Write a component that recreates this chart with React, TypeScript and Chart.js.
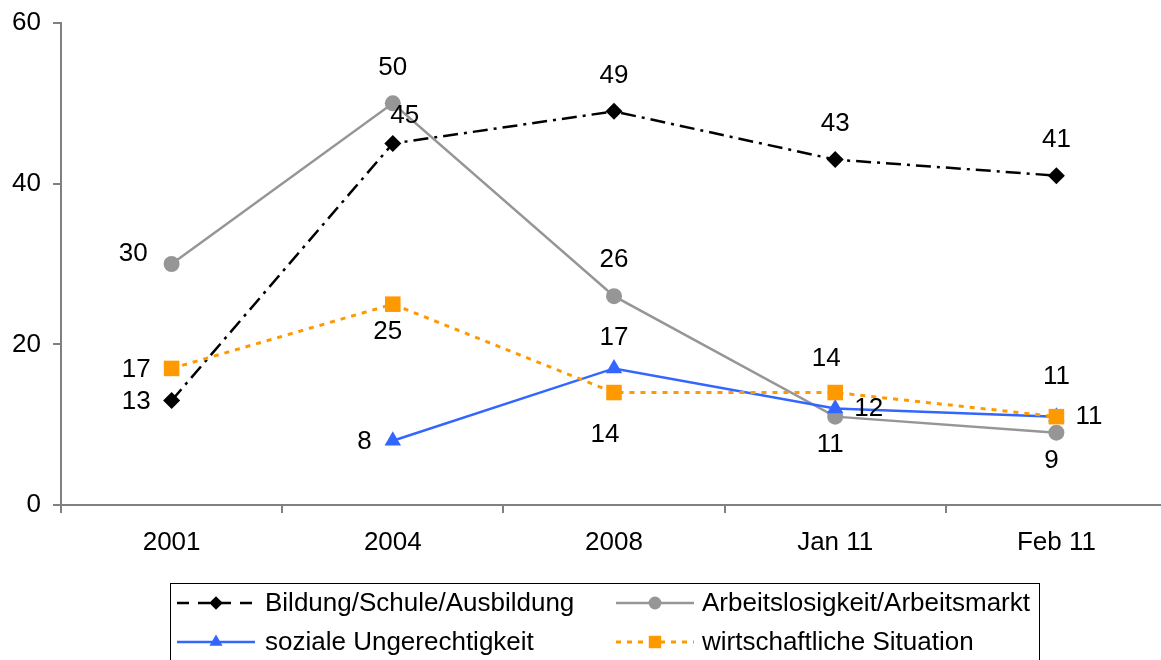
import React, { useEffect, useRef } from 'react';
import { Chart, registerables } from 'chart.js';

Chart.register(...registerables);

// ---- data ----
const categories = ['2001', '2004', '2008', 'Jan 11', 'Feb 11'];
const seriesNames = [
  'Bildung/Schule/Ausbildung',
  'Arbeitslosigkeit/Arbeitsmarkt',
  'soziale Ungerechtigkeit',
  'wirtschaftliche Situation',
];
const bildung = [13, 45, 49, 43, 41];
const arbeitslosigkeit = [30, 50, 26, 11, 9];
const sozial = [null, 8, 17, 12, 11];
const wirtschaft = [17, 25, 14, 14, 11];
const yTicks = [0, 20, 40, 60];

// ---- label placement (style) ----
const labelPlacement = [
  ['left', 'aboveTight', 'above', 'above', 'above'],
  ['leftHigh', 'above', 'above', 'below', 'below'],
  ['none', 'left', 'aboveNear', 'right', 'right'],
  ['left', 'below', 'belowFar', 'aboveL', 'aboveFar'],
];

const OFFSETS: Record<string, [number, number, CanvasTextAlign]> = {
  above: [0, -36, 'center'],
  aboveFar: [0, -40, 'center'],
  aboveNear: [0, -31, 'center'],
  aboveL: [-9, -34, 'center'],
  aboveTight: [12, -28, 'center'],
  below: [-5, 28, 'center'],
  belowFar: [-9, 42, 'center'],
  left: [-21, 1, 'right'],
  leftHigh: [-24, -10, 'right'],
  right: [19, 0, 'left'],
};

const FONT = "'Liberation Sans', Arial, Helvetica, sans-serif";
const FS = 26;

const styles = [
  { color: '#000000', width: 2.5, dash: [15, 6, 3, 6], point: 'rectRot', radius: 8.5 },
  { color: '#969696', width: 2.5, dash: [], point: 'circle', radius: 8 },
  { color: '#3366FF', width: 2.5, dash: [], point: 'triangle', radius: 9.5 },
  { color: '#FF9900', width: 3, dash: [5, 6], point: 'rect', radius: 11 },
];

const W = 1178;
const H = 660;

function drawMarker(ctx: CanvasRenderingContext2D, style: string, x: number, y: number, r: number, color: string) {
  ctx.save();
  ctx.fillStyle = color;
  ctx.setLineDash([]);
  ctx.beginPath();
  if (style === 'circle') {
    ctx.arc(x, y, r, 0, Math.PI * 2);
  } else if (style === 'rect') {
    const s = r * Math.SQRT1_2;
    ctx.rect(x - s, y - s, 2 * s, 2 * s);
  } else if (style === 'rectRot') {
    ctx.moveTo(x, y - r);
    ctx.lineTo(x + r, y);
    ctx.lineTo(x, y + r);
    ctx.lineTo(x - r, y);
    ctx.closePath();
  } else if (style === 'triangle') {
    const h = r * Math.sin(Math.PI / 3);
    ctx.moveTo(x, y - r);
    ctx.lineTo(x + h, y + r / 2);
    ctx.lineTo(x - h, y + r / 2);
    ctx.closePath();
  }
  ctx.fill();
  ctx.restore();
}

const dataLabelsPlugin = {
  id: 'dataLabels',
  afterDatasetsDraw(chart: any) {
    const ctx: CanvasRenderingContext2D = chart.ctx;
    ctx.save();
    ctx.font = `${FS}px ${FONT}`;
    ctx.fillStyle = '#000';
    ctx.textBaseline = 'middle';
    chart.data.datasets.forEach((ds: any, di: number) => {
      const meta = chart.getDatasetMeta(di);
      meta.data.forEach((pt: any, i: number) => {
        const v = ds.data[i];
        if (v === null || v === undefined) return;
        const code = labelPlacement[di][i];
        const off = OFFSETS[code];
        if (!off) return;
        ctx.textAlign = off[2];
        ctx.fillText(String(v), pt.x + off[0], pt.y + off[1]);
      });
    });
    ctx.restore();
  },
};

const legendPlugin = {
  id: 'boxLegend',
  afterDraw(chart: any) {
    const ctx: CanvasRenderingContext2D = chart.ctx;
    ctx.save();
    ctx.strokeStyle = '#000';
    ctx.lineWidth = 1;
    ctx.setLineDash([]);
    ctx.strokeRect(170.5, 583.5, 869, 90);
    const cols = [{ s: 177, t: 265 }, { s: 616, t: 702 }];
    const rows = [603, 642];
    ctx.font = `${FS}px ${FONT}`;
    ctx.fillStyle = '#000';
    ctx.textBaseline = 'middle';
    ctx.textAlign = 'left';
    chart.data.datasets.forEach((ds: any, di: number) => {
      const st = styles[di];
      const c = cols[di % 2];
      const y = rows[Math.floor(di / 2)];
      const x0 = c.s;
      const x1 = c.s + 78;
      ctx.save();
      ctx.strokeStyle = st.color;
      ctx.lineWidth = st.width;
      ctx.setLineDash(di === 0 ? [12, 9] : st.dash);
      ctx.beginPath();
      ctx.moveTo(x0, y);
      ctx.lineTo(x1, y);
      ctx.stroke();
      ctx.restore();
      drawMarker(ctx, st.point, (x0 + x1) / 2, y, st.radius * 0.8, st.color);
      ctx.fillStyle = '#000';
      ctx.fillText(ds.label, c.t, y + 1);
    });
    ctx.restore();
  },
};

export default function App() {
  const ref = useRef<HTMLCanvasElement>(null);

  useEffect(() => {
    if (!ref.current) return;
    const seriesData = [bildung, arbeitslosigkeit, sozial, wirtschaft];
    const chart = new Chart(ref.current, {
      type: 'line',
      data: {
        labels: categories,
        datasets: seriesData.map((d, i) => ({
          label: seriesNames[i],
          data: d as any,
          borderColor: styles[i].color,
          backgroundColor: styles[i].color,
          borderWidth: styles[i].width,
          borderDash: styles[i].dash,
          pointStyle: styles[i].point as any,
          pointRadius: styles[i].radius,
          pointBackgroundColor: styles[i].color,
          pointBorderColor: styles[i].color,
          pointBorderWidth: 0,
          tension: 0,
          fill: false,
          spanGaps: false,
          order: 4 - i,
        })),
      },
      options: {
        responsive: false,
        maintainAspectRatio: false,
        animation: false,
        devicePixelRatio: 1,
        layout: { padding: { top: 23, right: 4, bottom: 105, left: 0 } },
        plugins: {
          legend: { display: false },
          tooltip: { enabled: false },
        },
        scales: {
          x: {
            type: 'category',
            offset: true,
            grid: {
              display: true,
              offset: true,
              drawOnChartArea: false,
              drawTicks: true,
              tickLength: 8,
              color: '#808080',
              lineWidth: 2,
            },
            border: { display: true, color: '#808080', width: 2 },
            ticks: {
              color: '#000',
              font: { family: FONT, size: FS },
              padding: 14,
              maxRotation: 0,
            },
            afterFit: (s: any) => {
              s.height = 50;
              s.paddingLeft = 0;
              s.paddingRight = 0;
            },
          },
          y: {
            min: 0,
            max: 60,
            grid: {
              display: true,
              drawOnChartArea: false,
              drawTicks: true,
              tickLength: 8,
              color: '#808080',
              lineWidth: 2,
            },
            border: { display: true, color: '#808080', width: 2 },
            ticks: {
              color: '#000',
              font: { family: FONT, size: FS },
              padding: 12,
            },
            afterBuildTicks: (s: any) => {
              s.ticks = yTicks.map((v) => ({ value: v }));
            },
            afterFit: (s: any) => {
              s.width = 61;
              s.paddingTop = 0;
              s.paddingBottom = 0;
            },
          },
        },
      },
      plugins: [dataLabelsPlugin, legendPlugin],
    });
    return () => chart.destroy();
  }, []);

  return (
    <div
      style={{
        position: 'fixed',
        left: 0,
        top: 0,
        width: 1161,
        height: 660,
        overflow: 'hidden',
        background: '#fff',
      }}
    >
      <div style={{ position: 'absolute', left: 0, top: 0, width: W, height: H }}>
        <canvas
          ref={ref}
          width={W}
          height={H}
          style={{ display: 'block', width: W, height: H }}
        />
      </div>
    </div>
  );
}
